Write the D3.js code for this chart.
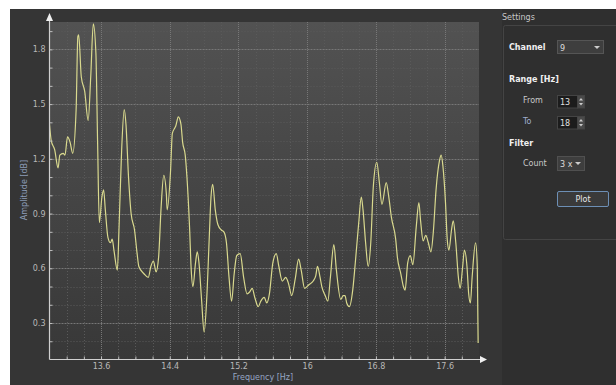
<!DOCTYPE html>
<html><head><meta charset="utf-8">
<script src="https://cdn.jsdelivr.net/npm/d3@7"></script>
<style>
html,body{margin:0;padding:0;background:#fff;}
svg{display:block;font-family:"DejaVu Sans",sans-serif;}
</style></head>
<body><svg id="c" width="616" height="385"></svg>
<script>
const freq = [
13.00,13.02,13.06,13.10,13.12,13.16,13.18,13.21,13.24,13.27,
13.31,13.33,13.34,13.37,13.41,13.45,13.48,13.51,13.54,13.56,
13.58,13.61,13.63,13.65,13.68,13.71,13.73,13.75,13.79,13.81,
13.84,13.87,13.89,13.92,13.95,13.99,14.02,14.04,14.10,14.15,
14.18,14.21,14.24,14.27,14.30,14.33,14.36,14.37,14.41,14.43,
14.46,14.47,14.50,14.53,14.55,14.58,14.60,14.63,14.65,14.67,
14.70,14.72,14.74,14.77,14.80,14.83,14.86,14.88,14.90,14.93,
14.96,15.00,15.03,15.06,15.09,15.12,15.15,15.18,15.22,15.26,
15.30,15.33,15.36,15.39,15.43,15.46,15.50,15.53,15.56,15.60,
15.64,15.67,15.71,15.75,15.78,15.82,15.86,15.90,15.93,15.97,
16.02,16.07,16.10,16.12,16.15,16.17,16.21,16.24,16.27,16.31,
16.34,16.39,16.42,16.44,16.46,16.49,16.53,16.56,16.60,16.63,
16.65,16.68,16.71,16.74,16.77,16.81,16.84,16.87,16.92,16.95,
16.98,17.03,17.05,17.09,17.12,17.14,17.17,17.20,17.23,17.27,
17.30,17.32,17.35,17.38,17.41,17.44,17.47,17.50,17.54,17.56,
17.58,17.61,17.63,17.65,17.68,17.70,17.73,17.76,17.78,17.81,
17.83,17.86,17.88,17.90,17.92,17.96,17.98,17.99];
const amp = [
1.39,1.30,1.25,1.15,1.22,1.23,1.22,1.32,1.29,1.23,
1.47,1.87,1.88,1.65,1.57,1.41,1.65,1.94,1.78,1.29,
0.85,0.99,1.03,0.92,0.77,0.74,0.76,0.70,0.59,0.83,
1.25,1.47,1.39,1.10,0.90,0.81,0.68,0.61,0.57,0.55,
0.61,0.64,0.58,0.66,0.94,1.11,1.01,0.92,1.14,1.34,
1.37,1.38,1.43,1.39,1.29,1.22,1.10,0.83,0.59,0.50,
0.63,0.69,0.63,0.43,0.25,0.43,0.77,0.99,1.06,0.92,
0.84,0.81,0.80,0.74,0.55,0.42,0.57,0.67,0.68,0.55,
0.46,0.47,0.49,0.44,0.39,0.42,0.44,0.41,0.46,0.63,
0.68,0.61,0.53,0.55,0.52,0.45,0.54,0.65,0.59,0.49,
0.51,0.53,0.56,0.61,0.55,0.50,0.45,0.42,0.55,0.73,
0.59,0.43,0.45,0.45,0.41,0.39,0.48,0.63,0.85,0.99,
0.92,0.74,0.61,0.74,1.05,1.18,1.07,0.95,1.07,0.99,
0.88,0.76,0.66,0.57,0.50,0.48,0.63,0.67,0.62,0.83,
0.96,0.86,0.75,0.78,0.74,0.69,0.81,1.03,1.19,1.22,
1.16,0.96,0.76,0.70,0.81,0.86,0.74,0.55,0.49,0.61,
0.70,0.61,0.46,0.41,0.55,0.74,0.61,0.19];
const xMajor = [13.6,14.4,15.2,16,16.8,17.6];
const yMajor = [0.3,0.6,0.9,1.2,1.5,1.8];
const xMinor = [13.2,13.4,13.6,13.8,14.0,14.2,14.4,14.6,14.8,15.0,15.2,15.4,15.6,15.8,16.0,16.2,16.4,16.6,16.8,17.0,17.2,17.4,17.6,17.8];
const yMinor = [0.2,0.3,0.4,0.5,0.6,0.7,0.8,0.9,1.0,1.1,1.2,1.3,1.4,1.5,1.6,1.7,1.8,1.9];
const xDomain = [13,18], yDomain = [0.1,1.95];
const xLabel = "Frequency [Hz]", yLabel = "Amplitude [dB]";
const channel = "9", rangeFrom = "13", rangeTo = "18", filterCount = "3 x";

const svg = d3.select("#c");
const L = 49.5, R = 479, T = 22, B = 359.5;
const x = d3.scaleLinear(xDomain, [L, R]);
const y = d3.scaleLinear(yDomain, [B, T]);

// background panels
svg.append("rect").attr("x",10).attr("y",9).attr("width",492).attr("height",376).attr("fill","#353535");
svg.append("rect").attr("x",502).attr("y",9).attr("width",114).attr("height",376).attr("fill","#2f2f2f");

const defs = svg.append("defs");
const g = defs.append("linearGradient").attr("id","bg").attr("x1",0).attr("y1",0).attr("x2",0).attr("y2",1);
g.append("stop").attr("offset","0").attr("stop-color","#525252");
g.append("stop").attr("offset","1").attr("stop-color","#383838");
defs.append("clipPath").attr("id","clip").append("rect").attr("x",L).attr("y",T-2).attr("width",R-L).attr("height",B-T+2);

svg.append("rect").attr("x",L).attr("y",T).attr("width",R-L).attr("height",B-T).attr("fill","url(#bg)");

// grid
const grid = svg.append("g");
grid.selectAll(".vm").data(xMinor.filter(d=>!xMajor.some(m=>Math.abs(m-d)<1e-6))).join("line")
  .attr("x1",d=>Math.round(x(d))+0.5).attr("x2",d=>Math.round(x(d))+0.5).attr("y1",T).attr("y2",B)
  .attr("stroke","#5a5a5a").attr("stroke-dasharray","1,2");
grid.selectAll(".hm").data(yMinor.filter(d=>!yMajor.some(m=>Math.abs(m-d)<1e-6))).join("line")
  .attr("y1",d=>Math.round(y(d))+0.5).attr("y2",d=>Math.round(y(d))+0.5).attr("x1",L).attr("x2",R)
  .attr("stroke","#5a5a5a").attr("stroke-dasharray","1,2");
grid.selectAll(".vM").data(xMajor).join("line")
  .attr("x1",d=>Math.round(x(d))+0.5).attr("x2",d=>Math.round(x(d))+0.5).attr("y1",T).attr("y2",B)
  .attr("stroke","#777").attr("stroke-dasharray","1,1");
grid.selectAll(".hM").data(yMajor).join("line")
  .attr("y1",d=>Math.round(y(d))+0.5).attr("y2",d=>Math.round(y(d))+0.5).attr("x1",L).attr("x2",R)
  .attr("stroke","#777").attr("stroke-dasharray","2,1");

// line
const data = freq.map((f,i)=>[f,amp[i]]);
svg.append("path").datum(data).attr("clip-path","url(#clip)")
  .attr("d", d3.line().x(d=>x(d[0])).y(d=>y(d[1])).curve(d3.curveMonotoneX))
  .attr("fill","none").attr("stroke","#d9d98e").attr("stroke-width",1.2);

// axes
const fmt = d=>{const m = xMajor.find(v=>Math.abs(v-d)<1e-6); return m===undefined?"":String(m);};
const xa = svg.append("g").attr("transform",`translate(0,${B})`)
  .call(d3.axisBottom(x).tickValues(xMinor).tickSizeInner(-3).tickSizeOuter(0).tickPadding(4).tickFormat(fmt));
const fmtY = d=>{const m = yMajor.find(v=>Math.abs(v-d)<1e-6); return m===undefined?"":String(m);};
const ya = svg.append("g").attr("transform",`translate(${L},0)`)
  .call(d3.axisLeft(y).tickValues(yMinor).tickSizeInner(-3).tickSizeOuter(0).tickPadding(4).tickFormat(fmtY));
[xa,ya].forEach(a=>{
  a.select(".domain").remove();
  a.selectAll(".tick line").attr("stroke","#bdbdbd");
  a.selectAll(".tick text").attr("fill","#b8b8b8").style("font-size","8px").style("font-family","DejaVu Sans");
});
// axis lines with arrows
svg.append("line").attr("x1",L).attr("x2",L).attr("y1",B).attr("y2",T-4).attr("stroke","#d0d0d0").attr("stroke-width",1.2);
svg.append("line").attr("x1",L).attr("x2",R+2).attr("y1",B).attr("y2",B).attr("stroke","#d0d0d0").attr("stroke-width",1.2);
svg.append("path").attr("d",`M${L-3.5},${T-1}L${L},${T-9}L${L+3.5},${T-1}Z`).attr("fill","#f0f0f0");
svg.append("path").attr("d",`M${R+1},${B-3.5}L${R+8},${B}L${R+1},${B+3.5}Z`).attr("fill","#f0f0f0");

// axis labels
svg.append("text").attr("x",263).attr("y",380).attr("text-anchor","middle")
  .attr("fill","#95a6c4").style("font-size","8px").text(xLabel);
svg.append("text").attr("transform",`translate(27,190) rotate(-90)`).attr("text-anchor","middle")
  .attr("fill","#8c9cb8").style("font-size","8px").text(yLabel);

// settings panel
const p = svg.append("g").style("font-size","8px");
p.append("text").attr("x",502).attr("y",20).attr("fill","#c8c8c8").text("Settings");
p.append("rect").attr("x",503.5).attr("y",25.5).attr("width",120).attr("height",214).attr("rx",2)
  .attr("fill","none").attr("stroke","#444");
p.append("text").attr("x",509).attr("y",50).attr("fill","#f0f0f0").style("font-weight","bold").text("Channel");
p.append("rect").attr("x",557.5).attr("y",40.5).attr("width",46).attr("height",13).attr("fill","#3e3e3e").attr("stroke","#555");
p.append("text").attr("x",560).attr("y",50.5).attr("fill","#ddd").text(channel);
p.append("path").attr("d","M594,46L600,46L597,49Z").attr("fill","#ccc");
p.append("text").attr("x",509).attr("y",82).attr("fill","#f0f0f0").style("font-weight","bold").text("Range [Hz]");
p.append("text").attr("x",523).attr("y",103).attr("fill","#c8c8c8").text("From");
p.append("text").attr("x",523).attr("y",124).attr("fill","#9fb0d0").text("To");
[[95.5,rangeFrom],[116.5,rangeTo]].forEach(([yy,t])=>{
  p.append("rect").attr("x",557.5).attr("y",yy).attr("width",20).attr("height",12.5).attr("fill","#1c1c1c").attr("stroke","#444");
  p.append("rect").attr("x",577.5).attr("y",yy).attr("width",7).attr("height",12.5).attr("fill","#4a4a4a").attr("stroke","#444");
  p.append("path").attr("d",`M579,${yy+5}L581,${yy+2.5}L583,${yy+5}Z`).attr("fill","#ccc");
  p.append("path").attr("d",`M579,${yy+7.5}L581,${yy+10}L583,${yy+7.5}Z`).attr("fill","#ccc");
  p.append("text").attr("x",560).attr("y",yy+9.5).attr("fill","#e0e0e0").text(t);
});
p.append("text").attr("x",509).attr("y",146).attr("fill","#f0f0f0").style("font-weight","bold").text("Filter");
p.append("text").attr("x",523).attr("y",166).attr("fill","#c8c8c8").text("Count");
p.append("rect").attr("x",557.5).attr("y",156.5).attr("width",27).attr("height",14).attr("fill","#3e3e3e").attr("stroke","#505050");
p.append("text").attr("x",560).attr("y",167).attr("fill","#ddd").text(filterCount);
p.append("path").attr("d","M575,162L581,162L578,165Z").attr("fill","#ccc");
p.append("rect").attr("x",557.5).attr("y",191.5).attr("width",51).attr("height",15).attr("rx",1.5)
  .attr("fill","#3a3a3a").attr("stroke","#6d8fb5");
p.append("text").attr("x",583).attr("y",202).attr("text-anchor","middle").attr("fill","#e8e8e8").text("Plot");
</script></body></html>
